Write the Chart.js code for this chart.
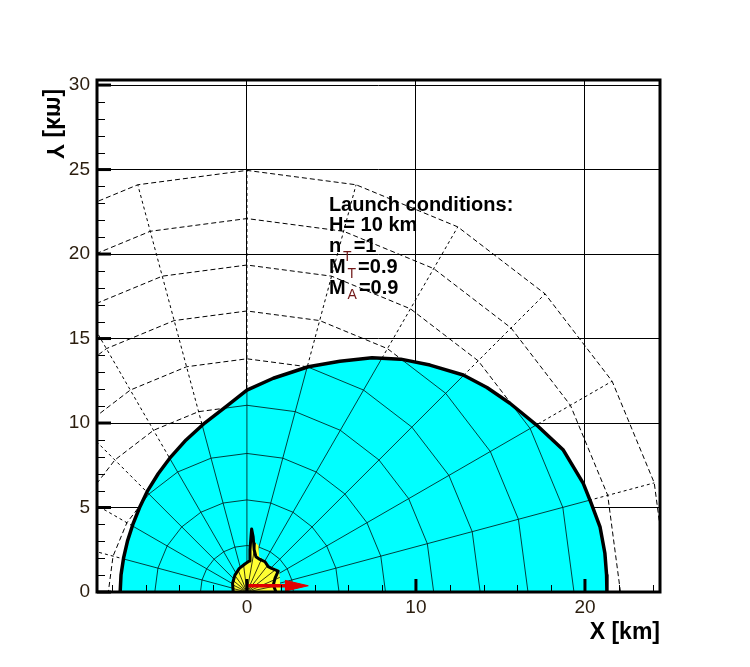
<!DOCTYPE html>
<html>
<head>
<meta charset="utf-8">
<script src="https://cdn.jsdelivr.net/npm/chart.js@4.4.1/dist/chart.umd.min.js"></script>
<style>
  html, body { margin: 0; padding: 0; background: #fff; }
  #wrap { width: 750px; height: 667px; }
</style>
</head>
<body>
<div id="wrap"><canvas id="chart"></canvas></div>
<script>
// axis ranges and ticks [km]
const xRange = [-8.87, 24.44];
const yRange = [0, 30.3];
const xMajorTicks = [0, 10, 20];
const xMinorTicks = [-8, -6, -4, -2, 2, 4, 6, 8, 12, 14, 16, 18, 22, 24];
const yMajorTicks = [0, 5, 10, 15, 20, 25, 30];
const yMinorTicks = [1, 2, 3, 4, 6, 7, 8, 9, 11, 12, 13, 14, 16, 17, 18, 19, 21, 22, 23, 24, 26, 27, 28, 29];

// polar mesh: ring radii [km] and ray angles [deg]
const ringRadii = [2.75, 5.45, 8.2, 11.05, 13.8, 16.63, 19.35, 22.1, 24.95];
const rayAngles = [0, 15, 30, 45, 60, 75, 90, 105, 120, 135, 150, 165, 180];

// launch zone boundary
const zoneX = [-7.5, -7.45, -7.3, -7.07, -6.75, -6.35, -5.87, -5.25, -4.5, -3.6, -2.5, -1.2, 0, 1.56, 3.63, 5.5, 7.4, 9.1, 10.83, 12.8, 14.2, 15.56, 17.14, 18.72, 19.9, 20.35, 20.89, 21.18, 21.28, 21.3];
const zoneY = [0, 1.0, 2.0, 3.0, 4.0, 5.0, 6.0, 7.0, 8.0, 9.0, 10.0, 11.0, 11.95, 12.65, 13.33, 13.66, 13.86, 13.78, 13.43, 12.84, 12.1, 11.17, 9.88, 8.4, 6.43, 5.3, 3.86, 2.29, 1.0, 0];

// no-escape zone (fill and outline)
const coreFillX = [-0.87, -0.87, -0.72, -0.45, -0.12, 0.14, 0.2, 0.28, 0.42, 0.68, 0.72, 1.07, 1.3, 1.9, 1.95, 1.97];
const coreFillY = [0, 0.5, 1.0, 1.4, 1.66, 1.83, 2.6, 3.73, 3.0, 2.75, 2.1, 1.85, 1.55, 1.3, 0.8, 0];
const coreEdgeX = [-0.81, -0.85, -0.71, -0.45, -0.12, 0.14, 0.18, 0.24, 0.28, 0.37, 0.43, 0.53, 0.77, 1.07, 1.26, 1.46, 1.85, 1.66, 1.56, 1.72];
const coreEdgeY = [0, 0.51, 1.0, 1.4, 1.66, 1.83, 2.49, 3.27, 3.73, 3.27, 2.49, 2.09, 1.93, 1.79, 1.5, 1.4, 1.24, 0.81, 0.41, 0];
const fanAngles = [12, 24, 38, 52, 66, 80, 97, 112, 126, 140, 153, 166];

// target velocity arrow
const arrowShaftX = [0.05, 2.3];
const arrowShaftY = [0.37, 0.37];
const arrowHeadX = [2.25, 3.63, 2.25];
const arrowHeadY = [0.05, 0.37, 0.69];

const noteMain = ['Launch conditions:', 'H= 10 km', 'n', 'M', 'M'];
const noteSub = ['', '', 'T', 'T', 'A'];
const noteTail = ['', '', '=1', '=0.9', '=0.9'];

const toPoints = (xs, ys) => xs.map((x, i) => ({ x: x, y: ys[i] }));
const polar = (r, deg) => ({ x: r * Math.cos(deg * Math.PI / 180), y: r * Math.sin(deg * Math.PI / 180) });

const outerR = ringRadii[ringRadii.length - 1];
const ringLines = () => ringRadii.map(r => rayAngles.map(a => polar(r, a)));
const rayLines = () => rayAngles.map(a => [{ x: 0, y: 0 }, polar(outerR, a)]);

function line(data, extra) {
  return Object.assign({
    data: data,
    showLine: true,
    pointRadius: 0,
    pointHoverRadius: 0,
    borderColor: '#000',
    borderWidth: 1,
    tension: 0,
    fill: false
  }, extra);
}

const datasets = [];
datasets.push(line(toPoints(zoneX, zoneY), { fill: 'shape', backgroundColor: '#00ffff', borderWidth: 0, order: 8 }));
datasets.push(line(toPoints(coreFillX, coreFillY), { fill: 'shape', backgroundColor: '#ffff33', borderWidth: 0, order: 5 }));
ringLines().forEach(d => datasets.push(line(d, { borderDash: [5, 3], order: 9 })));
rayLines().forEach(d => datasets.push(line(d, { borderDash: [3, 3], order: 9 })));
ringLines().forEach(d => datasets.push(line(d, { borderColor: 'rgba(0,30,30,0.85)', order: 7, clipTo: 0 })));
rayLines().forEach(d => datasets.push(line(d, { borderColor: 'rgba(0,30,30,0.85)', order: 7, clipTo: 0 })));
datasets.push(line(toPoints(zoneX, zoneY), { borderWidth: 3.5, borderJoinStyle: 'round', order: 6 }));
fanAngles.forEach(a => datasets.push(line([{ x: 0, y: 0 }, polar(4, a)], { borderColor: '#3a3a10', order: 4, clipTo: 1 })));
datasets.push(line(toPoints(coreEdgeX, coreEdgeY), { borderWidth: 3, borderJoinStyle: 'round', order: 3 }));
datasets.push(line(toPoints(arrowShaftX, arrowShaftY), { borderColor: '#e00000', borderWidth: 3.5, order: 2 }));
datasets.push(line(toPoints(arrowHeadX, arrowHeadY), { fill: 'shape', backgroundColor: '#e00000', borderColor: '#e00000', borderWidth: 1, order: 1 }));

// clip mesh lines to the inside of a filled zone
const clipPlugin = {
  id: 'clipToZone',
  beforeDatasetDraw(chart, args) {
    const key = chart.data.datasets[args.index].clipTo;
    if (key === undefined) return;
    const pts = chart.getDatasetMeta(key).data;
    const ctx = chart.ctx;
    ctx.save();
    ctx.beginPath();
    pts.forEach((p, i) => i ? ctx.lineTo(p.x, p.y) : ctx.moveTo(p.x, p.y));
    ctx.closePath();
    ctx.clip();
  },
  afterDatasetDraw(chart, args) {
    if (chart.data.datasets[args.index].clipTo !== undefined) chart.ctx.restore();
  }
};

// frame, inward ticks, titles and the note
const framePlugin = {
  id: 'frame',
  afterDatasetsDraw(chart) {
    const ctx = chart.ctx;
    const { left, right, top, bottom } = chart.chartArea;
    const xs = chart.scales.x, ys = chart.scales.y;
    ctx.save();
    ctx.strokeStyle = '#000';
    const tick = (x1, y1, x2, y2, w) => {
      ctx.lineWidth = w;
      ctx.beginPath(); ctx.moveTo(x1, y1); ctx.lineTo(x2, y2); ctx.stroke();
    };
    xMajorTicks.forEach(v => { const p = xs.getPixelForValue(v); tick(p, bottom, p, bottom - 13, 3); });
    xMinorTicks.forEach(v => { const p = Math.round(xs.getPixelForValue(v)) + 0.5; tick(p, bottom, p, bottom - 7, 1); });
    yMajorTicks.forEach(v => { const p = ys.getPixelForValue(v); tick(left, p, left + 14, p, 3); });
    yMinorTicks.forEach(v => { const p = Math.round(ys.getPixelForValue(v)) + 0.5; tick(left, p, left + 8, p, 1); });
    ctx.lineWidth = 3;
    ctx.strokeRect(left, top, right - left, bottom - top);

    ctx.fillStyle = '#000';
    ctx.font = 'bold 23px "Liberation Sans", Arial, sans-serif';
    ctx.textAlign = 'right';
    ctx.textBaseline = 'alphabetic';
    ctx.fillText('X [km]', right, 639);

    ctx.save();
    ctx.translate(left - 50, top + 44);
    ctx.rotate(-Math.PI / 2);
    ctx.scale(1, -1);
    ctx.textAlign = 'center';
    ctx.fillText('Y [km]', 0, 0);
    ctx.restore();

    const ax = xs.getPixelForValue(4.85);
    const ay = ys.getPixelForValue(22.56);
    ctx.textAlign = 'left';
    noteMain.forEach((txt, i) => {
      const by = ay + i * 20.7;
      ctx.font = 'bold 20px "Liberation Sans", Arial, sans-serif';
      ctx.fillStyle = '#000';
      ctx.fillText(txt, ax, by);
      if (!noteSub[i]) return;
      let x = ax + ctx.measureText(txt).width + 2;
      ctx.font = '14px "Liberation Sans", Arial, sans-serif';
      ctx.fillStyle = '#701818';
      ctx.fillText(noteSub[i], x, by + (txt === 'n' ? 9 : 5));
      x += ctx.measureText(noteSub[i]).width + 2;
      ctx.font = 'bold 20px "Liberation Sans", Arial, sans-serif';
      ctx.fillStyle = '#000';
      ctx.fillText(noteTail[i], x, by);
    });
    ctx.restore();
  }
};

const tickFont = { family: '"Liberation Sans", Arial, sans-serif', size: 19 };
const tickColor = '#2b1d0e';

new Chart(document.getElementById('chart'), {
  type: 'scatter',
  data: { datasets: datasets },
  options: {
    responsive: true,
    maintainAspectRatio: false,
    animation: false,
    events: [],
    layout: { padding: { left: 0, right: 90, top: 80, bottom: 0 } },
    plugins: { legend: { display: false }, tooltip: { enabled: false } },
    scales: {
      x: {
        type: 'linear',
        min: xRange[0],
        max: xRange[1],
        afterBuildTicks: s => { s.ticks = xMajorTicks.map(v => ({ value: v })); },
        afterFit: s => { s.height = 75; },
        grid: { color: '#000', lineWidth: 1, drawTicks: false },
        border: { display: false },
        ticks: { color: tickColor, font: tickFont, padding: 4, maxRotation: 0, autoSkip: false }
      },
      y: {
        type: 'linear',
        min: yRange[0],
        max: yRange[1],
        afterBuildTicks: s => { s.ticks = yMajorTicks.map(v => ({ value: v })); },
        afterFit: s => { s.width = 97; },
        grid: { color: '#000', lineWidth: 1, drawTicks: false },
        border: { display: false },
        ticks: { color: tickColor, font: tickFont, padding: 7, autoSkip: false }
      }
    }
  },
  plugins: [clipPlugin, framePlugin]
});
</script>
</body>
</html>
